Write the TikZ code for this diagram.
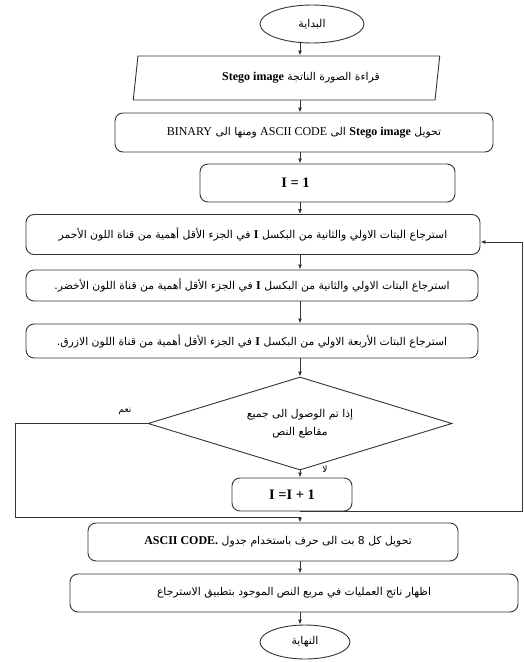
\documentclass[tikz,border=0pt]{standalone}
\usepackage{fontspec}
\setmainfont{Liberation Serif}
\newfontfamily\arabicfont[Script=Arabic]{DejaVu Sans}
\TeXXeTstate=1
\usetikzlibrary{shapes.geometric,arrows.meta}
\newcommand\artext[1]{{\arabicfont\fontsize{10.8}{14}\selectfont\beginR #1\endR}}
\newcommand\arsmall[1]{{\arabicfont\fontsize{9}{11}\selectfont\beginR #1\endR}}
\newcommand\latn[1]{\beginL{\rmfamily\fontsize{12}{14}\selectfont #1}\endL}
\newcommand\bigI[1]{{\rmfamily\bfseries\fontsize{14.5}{16}\selectfont #1}}
\tikzset{
  flow/.style={draw=black!80, line width=0.9pt},
  term/.style={flow, ellipse, inner sep=0pt},
  proc/.style={flow, rectangle, rounded corners=8pt, inner sep=0pt},
  readbox/.style={flow, trapezium, trapezium left angle=75, trapezium right angle=105,
    trapezium stretches=true, inner sep=0pt},
  test/.style={flow, diamond, aspect=3.27, inner sep=0pt, align=center},
  tag/.style={inner sep=1pt}
}
\begin{document}
\begin{tikzpicture}[x=1pt,y=-1pt]
  \useasboundingbox (0,0) rectangle (524,662);
  \draw
    (312,24) node[term, minimum width=104pt, minimum height=38pt] (start){\artext{البداية}}
    (286.5,78) node[readbox, minimum width=307pt, minimum height=44pt] (read){\null\hspace{29pt}\artext{قراءة الصورة الناتجة \latn{\textbf{Stego image}}}}
    (304,132.5) node[proc, minimum width=378pt, minimum height=39pt] (conv){\artext{تحويل \latn{\textbf{Stego image}} الى \latn{ASCII CODE} ومنها الى \latn{BINARY}}}
    (327.5,183) node[proc, minimum width=255pt, minimum height=38pt] (init){\bigI{I = 1}\hspace{64pt}\null}
    (253,234.5) node[proc, minimum width=454pt, minimum height=40pt] (ret1){\artext{استرجاع البتات الاولي والثانية من البكسل \latn{\textbf{I}} في الجزء الأقل أهمية من قناة اللون الأحمر}}
    (252,285.5) node[proc, minimum width=452pt, minimum height=31pt] (ret2){\artext{استرجاع البتات الاولي والثانية من البكسل \latn{\textbf{I}} في الجزء الأقل أهمية من قناة اللون الأخضر.}}
    (252,341) node[proc, minimum width=452pt, minimum height=34pt] (ret3){\artext{استرجاع البتات الأربعة الاولي من البكسل \latn{\textbf{I}} في الجزء الأقل أهمية من قناة اللون الازرق.}}
    (300,423.5) node[test, minimum width=304pt, minimum height=93pt] (dec){\artext{إذا تم الوصول الى جميع}\\[6pt]\artext{مقاطع النص}}
    (292,494.5) node[proc, minimum width=120pt, minimum height=33pt] (inc){\bigI{I =I + 1}}
    (273,542) node[proc, minimum width=370pt, minimum height=38pt] (ascii){\null\hspace{10pt}\artext{تحويل كل 8 بت الى حرف باستخدام جدول \latn{\textbf{ASCII CODE.}}}}
    (294,593) node[proc, minimum width=448pt, minimum height=38pt] (show){\artext{اظهار ناتج العمليات في مربع النص الموجود بتطبيق الاسترجاع}}
    (305,642) node[term, minimum width=90pt, minimum height=34pt] (stop){\artext{النهاية}};
  \coordinate (sp) at (300,0);
  \coordinate (lft) at (15,517);
  \coordinate (rgt) at (522,242);
  \node[tag] (yes) at (125,411) {\arsmall{نعم}};
  \node[tag] (no) at (325,469) {\arsmall{لا}};
  \begin{scope}[flow, -{Latex[length=5pt,width=4pt]}]
    \draw (sp |- start.south) to (sp |- read.north);
    \draw (sp |- read.south) to (sp |- conv.north);
    \draw (sp |- conv.south) to (sp |- init.north);
    \draw (sp |- init.south) to (sp |- ret1.north);
    \draw (sp |- ret1.south) to (sp |- ret2.north);
    \draw (sp |- ret2.south) to (sp |- ret3.north);
    \draw (sp |- ret3.south) to (dec.north);
    \draw (dec.south) to (sp |- inc.north);
    \draw (dec.west) -| (lft) -- (lft -| sp) -- (sp |- ascii.north);
    \draw (sp |- inc.south) -| (rgt) -- ([yshift=-7.5pt]ret1.east);
    \draw (sp |- ascii.south) to (sp |- show.north);
    \draw (sp |- show.south) to (sp |- stop.north);
  \end{scope}
\end{tikzpicture}
\end{document}
